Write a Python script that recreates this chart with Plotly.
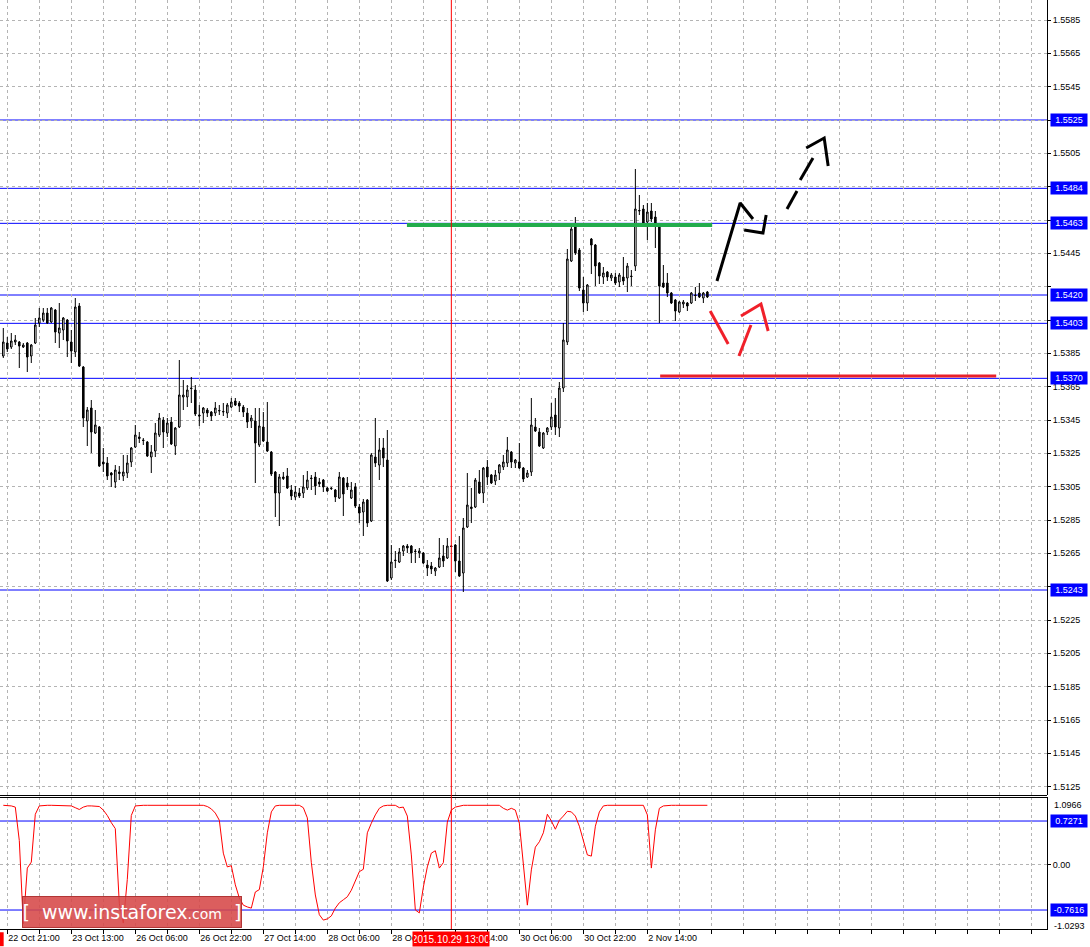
import plotly.graph_objects as go
from plotly.subplots import make_subplots

# ---------------- data (H1 bars, index 0..176) ----------------
bar_index = list(range(177))

open_ = [1.53834, 1.53912, 1.53888, 1.53918, 1.53918, 1.53888, 1.53912, 1.53834, 1.53912, 1.54032,
         1.54050, 1.54092, 1.54038, 1.54110, 1.53972, 1.53990, 1.54050, 1.53918, 1.53858, 1.54134,
         1.53768, 1.53444, 1.53522, 1.53372, 1.53408, 1.53198, 1.53192, 1.53132, 1.53078, 1.53138,
         1.53114, 1.53132, 1.53198, 1.53288, 1.53348, 1.53330, 1.53318, 1.53228, 1.53264, 1.53360,
         1.53450, 1.53372, 1.53438, 1.53294, 1.53408, 1.53588, 1.53588, 1.53642, 1.53630, 1.53480,
         1.53492, 1.53510, 1.53498, 1.53492, 1.53504, 1.53498, 1.53492, 1.53528, 1.53564, 1.53552,
         1.53528, 1.53492, 1.53444, 1.53444, 1.53300, 1.53408, 1.53318, 1.53258, 1.53138, 1.53012,
         1.53108, 1.53114, 1.53030, 1.52988, 1.53012, 1.53012, 1.53042, 1.53102, 1.53108, 1.53078,
         1.53090, 1.53042, 1.53042, 1.53030, 1.52982, 1.53102, 1.53072, 1.52982, 1.53048, 1.52928,
         1.52898, 1.52970, 1.52844, 1.53228, 1.53180, 1.53282, 1.53210, 1.52502, 1.52610, 1.52598,
         1.52664, 1.52694, 1.52694, 1.52664, 1.52652, 1.52652, 1.52580, 1.52574, 1.52544, 1.52568,
         1.52634, 1.52622, 1.52694, 1.52700, 1.52604, 1.52532, 1.52808, 1.52928, 1.52928, 1.53078,
         1.53012, 1.53168, 1.53120, 1.53084, 1.53132, 1.53168, 1.53192, 1.53258, 1.53192, 1.53198,
         1.53162, 1.53108, 1.53138, 1.53408, 1.53378, 1.53282, 1.53378, 1.53408, 1.53480, 1.53402,
         1.53642, 1.53918, 1.54404, 1.54608, 1.54470, 1.54230, 1.54152, 1.54536, 1.54500, 1.54392,
         1.54308, 1.54338, 1.54302, 1.54308, 1.54278, 1.54308, 1.54302, 1.54314, 1.54374, 1.54704,
         1.54716, 1.54638, 1.54704, 1.54668, 1.54626, 1.54272, 1.54272, 1.54212, 1.54170, 1.54098,
         1.54146, 1.54152, 1.54152, 1.54200, 1.54212, 1.54182, 1.54218]

high = [1.54002, 1.53948, 1.53972, 1.53960, 1.53924, 1.53912, 1.53918, 1.53906, 1.54062, 1.54122,
        1.54122, 1.54122, 1.54128, 1.54116, 1.54152, 1.54068, 1.54056, 1.53990, 1.54182, 1.54152,
        1.53774, 1.53528, 1.53570, 1.53510, 1.53414, 1.53282, 1.53228, 1.53138, 1.53180, 1.53174,
        1.53240, 1.53240, 1.53288, 1.53420, 1.53378, 1.53342, 1.53324, 1.53300, 1.53432, 1.53492,
        1.53468, 1.53462, 1.53468, 1.53408, 1.53810, 1.53690, 1.53660, 1.53708, 1.53660, 1.53540,
        1.53528, 1.53522, 1.53504, 1.53558, 1.53540, 1.53552, 1.53552, 1.53582, 1.53582, 1.53564,
        1.53540, 1.53522, 1.53480, 1.53522, 1.53522, 1.53498, 1.53558, 1.53264, 1.53144, 1.53126,
        1.53138, 1.53162, 1.53060, 1.53054, 1.53042, 1.53120, 1.53144, 1.53120, 1.53138, 1.53102,
        1.53096, 1.53048, 1.53048, 1.53036, 1.53138, 1.53108, 1.53108, 1.53078, 1.53072, 1.52946,
        1.52976, 1.52976, 1.53252, 1.53462, 1.53342, 1.53342, 1.53390, 1.52700, 1.52664, 1.52682,
        1.52700, 1.52706, 1.52700, 1.52676, 1.52682, 1.52658, 1.52610, 1.52598, 1.52568, 1.52742,
        1.52700, 1.52742, 1.52700, 1.52706, 1.52754, 1.52862, 1.53132, 1.53042, 1.53102, 1.53150,
        1.53168, 1.53210, 1.53126, 1.53150, 1.53186, 1.53240, 1.53348, 1.53264, 1.53216, 1.53312,
        1.53168, 1.53150, 1.53582, 1.53462, 1.53402, 1.53378, 1.53408, 1.53552, 1.53582, 1.53678,
        1.54032, 1.54476, 1.54614, 1.54668, 1.54482, 1.54308, 1.54266, 1.54542, 1.54506, 1.54398,
        1.54368, 1.54344, 1.54332, 1.54332, 1.54332, 1.54428, 1.54392, 1.54350, 1.54956, 1.54800,
        1.54740, 1.54752, 1.54752, 1.54704, 1.54632, 1.54380, 1.54332, 1.54218, 1.54176, 1.54164,
        1.54170, 1.54158, 1.54218, 1.54248, 1.54272, 1.54218, 1.54224]

low = [1.53822, 1.53858, 1.53876, 1.53900, 1.53762, 1.53882, 1.53738, 1.53792, 1.53906, 1.54008,
       1.54038, 1.54026, 1.54032, 1.53912, 1.53882, 1.53930, 1.53828, 1.53792, 1.53828, 1.53768,
       1.53408, 1.53294, 1.53252, 1.53366, 1.53168, 1.53138, 1.53090, 1.53048, 1.53042, 1.53090,
       1.53084, 1.53102, 1.53168, 1.53282, 1.53312, 1.53300, 1.53228, 1.53132, 1.53228, 1.53348,
       1.53282, 1.53348, 1.53300, 1.53240, 1.53402, 1.53510, 1.53528, 1.53552, 1.53474, 1.53414,
       1.53432, 1.53468, 1.53444, 1.53474, 1.53480, 1.53474, 1.53462, 1.53522, 1.53534, 1.53498,
       1.53468, 1.53402, 1.53402, 1.53072, 1.53288, 1.53318, 1.53258, 1.53114, 1.52868, 1.52814,
       1.53090, 1.53036, 1.52970, 1.52970, 1.52982, 1.52982, 1.53030, 1.53030, 1.53000, 1.53048,
       1.53018, 1.53018, 1.53030, 1.52958, 1.52976, 1.52874, 1.53030, 1.52976, 1.52922, 1.52832,
       1.52754, 1.52808, 1.52838, 1.53168, 1.53090, 1.53168, 1.52478, 1.52490, 1.52562, 1.52592,
       1.52634, 1.52652, 1.52592, 1.52592, 1.52622, 1.52586, 1.52514, 1.52526, 1.52514, 1.52562,
       1.52568, 1.52616, 1.52688, 1.52538, 1.52508, 1.52418, 1.52802, 1.52832, 1.52922, 1.53006,
       1.52952, 1.53060, 1.53066, 1.53060, 1.53090, 1.53150, 1.53168, 1.53162, 1.53162, 1.53156,
       1.53078, 1.53102, 1.53114, 1.53378, 1.53288, 1.53276, 1.53360, 1.53390, 1.53360, 1.53348,
       1.53618, 1.53900, 1.54398, 1.54440, 1.54224, 1.54098, 1.54104, 1.54326, 1.54254, 1.54266,
       1.54266, 1.54284, 1.54284, 1.54260, 1.54248, 1.54260, 1.54218, 1.54254, 1.54344, 1.54680,
       1.54626, 1.54530, 1.54638, 1.54482, 1.54032, 1.54242, 1.54188, 1.54146, 1.54044, 1.54092,
       1.54122, 1.54104, 1.54146, 1.54164, 1.54182, 1.54152, 1.54182]

close = [1.53918, 1.53876, 1.53924, 1.53930, 1.53894, 1.53900, 1.53828, 1.53900, 1.54020, 1.54062,
         1.54092, 1.54032, 1.54122, 1.53978, 1.54002, 1.54062, 1.53924, 1.53864, 1.54128, 1.53774,
         1.53462, 1.53510, 1.53378, 1.53420, 1.53174, 1.53186, 1.53114, 1.53120, 1.53150, 1.53129,
         1.53138, 1.53192, 1.53282, 1.53360, 1.53339, 1.53327, 1.53234, 1.53258, 1.53372, 1.53462,
         1.53378, 1.53432, 1.53306, 1.53402, 1.53600, 1.53600, 1.53630, 1.53639, 1.53486, 1.53474,
         1.53522, 1.53492, 1.53474, 1.53522, 1.53507, 1.53501, 1.53540, 1.53558, 1.53540, 1.53534,
         1.53498, 1.53438, 1.53462, 1.53312, 1.53414, 1.53324, 1.53264, 1.53126, 1.53012, 1.53108,
         1.53099, 1.53042, 1.52994, 1.53018, 1.52994, 1.53048, 1.53090, 1.53099, 1.53054, 1.53066,
         1.53048, 1.53024, 1.53039, 1.52988, 1.53108, 1.53006, 1.53048, 1.53030, 1.52934, 1.52892,
         1.52958, 1.52832, 1.53240, 1.53192, 1.53270, 1.53222, 1.52484, 1.52598, 1.52607, 1.52658,
         1.52694, 1.52682, 1.52652, 1.52661, 1.52664, 1.52592, 1.52562, 1.52556, 1.52562, 1.52622,
         1.52604, 1.52694, 1.52691, 1.52604, 1.52514, 1.52802, 1.52940, 1.52919, 1.53090, 1.53012,
         1.53162, 1.53108, 1.53072, 1.53120, 1.53180, 1.53198, 1.53270, 1.53198, 1.53210, 1.53162,
         1.53096, 1.53132, 1.53420, 1.53384, 1.53294, 1.53372, 1.53402, 1.53468, 1.53408, 1.53642,
         1.53930, 1.54416, 1.54596, 1.54452, 1.54242, 1.54152, 1.54260, 1.54500, 1.54374, 1.54314,
         1.54332, 1.54308, 1.54320, 1.54272, 1.54320, 1.54284, 1.54374, 1.54311, 1.54716, 1.54707,
         1.54632, 1.54698, 1.54656, 1.54626, 1.54254, 1.54248, 1.54212, 1.54152, 1.54104, 1.54158,
         1.54158, 1.54134, 1.54212, 1.54197, 1.54188, 1.54212, 1.54188]

indicator = [0.99, 0.99, 0.98, 0.96, 0.40, -0.99, -0.06, 0.04, 0.84, 0.98,
             0.99, 0.99, 0.99, 0.99, 0.99, 0.99, 0.99, 0.98, 0.95, 0.92,
             0.96, 0.98, 0.98, 0.98, 0.97, 0.91, 0.82, 0.70, 0.60, -0.65,
             -0.98, -0.25, 0.82, 0.98, 0.99, 0.99, 0.99, 0.99, 0.99, 0.99,
             0.99, 0.99, 0.99, 0.99, 0.99, 0.99, 0.99, 0.99, 0.99, 0.99,
             0.99, 0.97, 0.93, 0.86, 0.74, 0.19, -0.04, -0.02, -0.34, -0.56,
             -0.68, -0.71, -0.73, -0.46, -0.42, -0.04, 0.53, 0.88, 0.98, 0.99,
             0.99, 0.99, 0.99, 0.99, 0.99, 0.95, 0.78, 0.03, -0.51, -0.84,
             -0.93, -0.91, -0.86, -0.73, -0.64, -0.59, -0.54, -0.43, -0.26, -0.12,
             -0.08, 0.53, 0.69, 0.83, 0.94, 0.98, 0.99, 0.99, 0.99, 0.95,
             0.96, 0.81, 0.16, -0.76, -0.81, -0.38, -0.04, 0.19, 0.23, -0.06,
             0.03, 0.71, 0.91, 0.96, 0.98, 0.99, 0.99, 0.99, 0.99, 0.99,
             0.99, 0.99, 0.99, 0.99, 0.99, 0.94, 0.91, 0.94, 0.91, 0.69,
             -0.01, -0.68, -0.09, 0.29, 0.38, 0.53, 0.84, 0.73, 0.59, 0.74,
             0.81, 0.89, 0.88, 0.81, 0.64, 0.41, 0.16, 0.14, 0.64, 0.88,
             0.98, 0.99, 0.99, 0.99, 0.99, 0.99, 0.99, 0.99, 0.99, 0.99,
             0.99, 0.83, -0.06, 0.58, 0.94, 0.98, 0.99, 0.99, 0.99, 0.99,
             0.99, 0.99, 0.99, 0.99, 0.99, 0.99, 0.99]

# time axis labels (every 16 bars starting at bar 1)
time_label_bars = [1, 17, 33, 49, 65, 81, 97, 113, 129, 145, 161]
time_labels = ["22 Oct 21:00", "23 Oct 13:00", "26 Oct 06:00", "26 Oct 22:00", "27 Oct 14:00",
               "28 Oct 06:00", "28 Oct 22:00", "29 Oct 14:00", "30 Oct 06:00", "30 Oct 22:00",
               "2 Nov 14:00"]
grid_bars = list(range(1, 260, 8))

# price scale ticks and the ones hidden behind level tags
price_ticks = [1.5125, 1.5145, 1.5165, 1.5185, 1.5205, 1.5225, 1.5245, 1.5265, 1.5285, 1.5305,
               1.5325, 1.5345, 1.5365, 1.5385, 1.5405, 1.5425, 1.5445, 1.5465, 1.5485, 1.5505,
               1.5525, 1.5545, 1.5565, 1.5585]
hidden_ticks = [1.5245, 1.5405, 1.5425, 1.5465, 1.5485, 1.5525]

price_levels = [1.5525, 1.5484, 1.5463, 1.5420, 1.5403, 1.5370, 1.5243]
osc_levels = [0.7271, -0.7616]
osc_max, osc_min = 1.0966, -1.0293

crosshair_bar = 112
crosshair_text = "2015.10.29 13:00"

# hand-drawn analysis marks (bar index, price)
green_level = {"x": [100.9, 177.2], "y": [1.5462, 1.5462]}
red_level = {"x": [164.2, 248.2], "y": [1.53714, 1.53714]}
black_x = [178.4, 184.2, 187.4, None, 185.2, 189.9, 190.7, None, 195.9, 198.4, None,
           199.2, 202.4, None, 200.7, 205.2, 206.2]
black_y = [1.54284, 1.54752, 1.54656, None, 1.54590, 1.54572, 1.54680, None, 1.54716, 1.54824, None,
           1.54890, 1.55022, None, 1.55082, 1.55142, 1.54974]
red_x = [176.7, 181.2, None, 183.9, 186.9, None, 184.4, 189.4, 191.2]
red_y = [1.54104, 1.53906, None, 1.53834, 1.54020, None, 1.54074, 1.54146, 1.53984]

# ---------------- figure ----------------
W, H = 1090, 947
PLOT_H = 929
main_dom = [(PLOT_H - 795) / PLOT_H, 1.0]
osc_dom = [0.0, (PLOT_H - 797) / PLOT_H]
sep_lines = [(PLOT_H - 795.5) / PLOT_H, (PLOT_H - 797.5) / PLOT_H]
XR = [-0.825, 260.9]
FONT = "Liberation Sans, Arial, sans-serif"
BLUE = "#0000ff"
GRID = "#b4b4b4"
DASH = "3px,3px"

fig = make_subplots(rows=2, cols=1, shared_xaxes=True, vertical_spacing=0.0)

fig.add_trace(go.Candlestick(
    x=bar_index, open=open_, high=high, low=low, close=close,
    increasing=dict(line=dict(color="black", width=1), fillcolor="white"),
    decreasing=dict(line=dict(color="black", width=1), fillcolor="black"),
    whiskerwidth=0, hoverinfo="skip", showlegend=False), row=1, col=1)

fig.add_trace(go.Scatter(x=green_level["x"], y=green_level["y"], mode="lines",
                         line=dict(color="#22ac4c", width=4), hoverinfo="skip"), row=1, col=1)
fig.add_trace(go.Scatter(x=red_level["x"], y=red_level["y"], mode="lines",
                         line=dict(color="#e8202a", width=3), hoverinfo="skip"), row=1, col=1)
fig.add_trace(go.Scatter(x=black_x, y=black_y, mode="lines",
                         line=dict(color="black", width=3), hoverinfo="skip"), row=1, col=1)
fig.add_trace(go.Scatter(x=red_x, y=red_y, mode="lines",
                         line=dict(color="#f0202a", width=3), hoverinfo="skip"), row=1, col=1)

fig.add_trace(go.Scatter(x=bar_index, y=indicator, mode="lines",
                         line=dict(color="#ff0000", width=1), hoverinfo="skip"), row=2, col=1)

ticktext = []
for b in grid_bars:
    ticktext.append(time_labels[time_label_bars.index(b)] if b in time_label_bars else "")
price_ticktext = ["" if t in hidden_ticks else f"{t:.4f}" for t in price_ticks]

shapes = []
for p in price_levels:
    shapes.append(dict(type="line", xref="paper", x0=0, x1=1, yref="y", y0=p, y1=p,
                       line=dict(color=BLUE, width=1), layer="below"))
for p in osc_levels:
    shapes.append(dict(type="line", xref="paper", x0=0, x1=1, yref="y2", y0=p, y1=p,
                       line=dict(color=BLUE, width=1), layer="below"))
# pane separator (double line) and crosshair
for yy in sep_lines:
    shapes.append(dict(type="line", xref="paper", x0=0, x1=1, yref="paper", y0=yy, y1=yy,
                       line=dict(color="black", width=1)))
shapes.append(dict(type="line", xref="x", x0=crosshair_bar, x1=crosshair_bar, yref="paper",
                   y0=0, y1=1, line=dict(color="#ff0000", width=1)))
shapes.append(dict(type="rect", xref="paper", x0=0, x1=0.0035, yref="paper",
                   y0=-0.0185, y1=-0.0035, fillcolor="#ff0000", line=dict(width=0)))

annotations = []
for p in price_levels:
    annotations.append(dict(xref="paper", x=1, xanchor="left", xshift=3, yref="y", y=p,
                            text=f"{p:.4f}", showarrow=False, bgcolor=BLUE,
                            font=dict(color="white", size=9, family=FONT),
                            width=34, height=10, borderpad=1))
for p in osc_levels:
    annotations.append(dict(xref="paper", x=1, xanchor="left", xshift=3, yref="y2", y=p,
                            text=f"{p:.4f}", showarrow=False, bgcolor=BLUE,
                            font=dict(color="white", size=9, family=FONT),
                            width=34, height=10, borderpad=1))
annotations.append(dict(xref="paper", x=1, xanchor="left", xshift=5, yref="y2", y=osc_max,
                        yanchor="top", yshift=1, text=f"{osc_max:.4f}", showarrow=False,
                        font=dict(color="black", size=9, family=FONT)))
annotations.append(dict(xref="paper", x=1, xanchor="left", xshift=5, yref="y2", y=osc_min,
                        yanchor="middle", text=f"{osc_min:.4f}", showarrow=False,
                        font=dict(color="black", size=9, family=FONT)))
annotations.append(dict(xref="x2", x=crosshair_bar, xanchor="center", yref="paper", y=0,
                        yanchor="top", yshift=-2, text=crosshair_text, showarrow=False,
                        bgcolor="#ff0000", font=dict(color="white", size=10, family=FONT),
                        width=74, height=12, borderpad=1))
annotations.append(dict(xref="paper", x=22 / 1047, xanchor="left", yref="paper",
                        y=(PLOT_H - 896) / PLOT_H, yanchor="top",
                        text="[  www.instaforex<span style='font-size:14px'>.com</span>  ]",
                        showarrow=False, bgcolor="rgba(214,72,72,0.88)",
                        bordercolor="rgba(170,40,40,0.9)", borderwidth=1,
                        font=dict(color="white", size=19, family="DejaVu Sans, sans-serif"),
                        width=218, height=30, borderpad=0))

fig.update_layout(
    width=W, height=H, margin=dict(l=0, r=43, t=0, b=H - PLOT_H),
    paper_bgcolor="white", plot_bgcolor="white", showlegend=False, hovermode=False,
    font=dict(family=FONT, size=9, color="black"),
    boxgap=0.45,
    shapes=shapes, annotations=annotations,
)

common_x = dict(range=XR, tickmode="array", tickvals=grid_bars, showgrid=True,
                gridcolor=GRID, griddash=DASH, gridwidth=1, zeroline=False,
                rangeslider=dict(visible=False))
fig.update_xaxes(**common_x, showticklabels=False, ticks="", row=1, col=1)
fig.update_xaxes(**common_x, ticktext=ticktext, showticklabels=True, ticks="outside",
                 ticklen=4, tickcolor="black", ticklabelposition="outside right",
                 showline=True, linecolor="black", linewidth=1,
                 tickfont=dict(size=9, family=FONT, color="black"), row=2, col=1)

fig.update_yaxes(domain=main_dom, range=[1.5120, 1.5597], side="right", tickmode="array",
                 tickvals=price_ticks, ticktext=price_ticktext, showgrid=True, gridcolor=GRID,
                 griddash=DASH, zeroline=False, showline=True, linecolor="black",
                 ticks="outside", ticklen=3, tickcolor="black",
                 tickfont=dict(size=9, family=FONT, color="black"), row=1, col=1)
fig.update_yaxes(domain=osc_dom, range=[-1.079, 1.129], side="right", tickmode="array",
                 tickvals=[0], ticktext=["0.00"], showgrid=True, gridcolor=GRID,
                 griddash=DASH, zeroline=False, showline=True, linecolor="black",
                 ticks="outside", ticklen=3, tickcolor="black",
                 tickfont=dict(size=9, family=FONT, color="black"), row=2, col=1)

fig.write_html("out.html", config={"displayModeBar": False, "staticPlot": True},
               post_script="document.body.style.margin='0';document.body.style.overflow='hidden';")
